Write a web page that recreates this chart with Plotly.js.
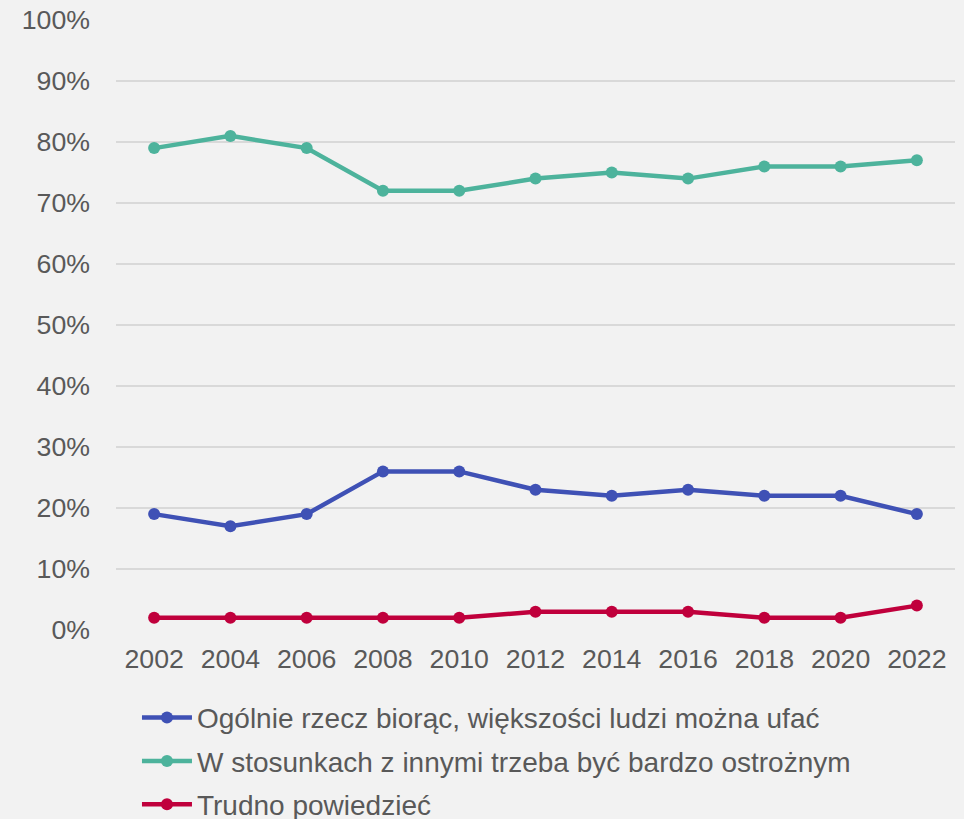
<!DOCTYPE html>
<html><head><meta charset="utf-8">
<script src="https://cdn.plot.ly/plotly-3.0.1.min.js"></script>
<style>html,body{margin:0;padding:0;background:#f2f2f2;}</style>
</head><body>
<div id="chart" style="width:964px;height:819px;"></div>
<script>
const years = ['2002','2004','2006','2008','2010','2012','2014','2016','2018','2020','2022'];
const trustMost = [19,17,19,26,26,23,22,23,22,22,19];
const beCareful = [79,81,79,72,72,74,75,74,76,76,77];
const hardToSay = [2,2,2,2,2,3,3,3,2,2,4];
const seriesNames = [
  'Ogólnie rzecz biorąc, większości ludzi można ufać',
  'W stosunkach z innymi trzeba być bardzo ostrożnym',
  'Trudno powiedzieć'
];
const colors = ['#3f51b5','#4db39c','#c0003c'];
const fam = '"Liberation Sans", Arial, sans-serif';
const tickFont = {family:fam, size:26.7, color:'#595959'};
const legFont = {family:fam, size:28, color:'#595959'};
const mk = (y,i)=>({x:years,y:y,name:seriesNames[i],legendgroup:'g'+i,type:'scatter',mode:'lines+markers',
  line:{color:colors[i],width:4.5},marker:{color:colors[i],size:12}});
const data=[mk(trustMost,0),mk(beCareful,1),mk(hardToSay,2)];
const layout={
  width:964,height:819,
  margin:{l:116,r:9,t:20,b:189,autoexpand:false},
  paper_bgcolor:'#f2f2f2',plot_bgcolor:'#f2f2f2',
  font:tickFont,
  xaxis:{type:'category',range:[-0.5,years.length-0.5],showgrid:false,zeroline:false,showline:false,ticks:'',automargin:false,
    tickfont:tickFont,tickangle:0,ticklabelstandoff:10,fixedrange:true},
  yaxis:{range:[0,100],dtick:10,ticksuffix:'%',showgrid:true,gridcolor:'#d9d9d9',gridwidth:1.5,automargin:false,
    zeroline:false,showline:false,ticks:'',tickfont:tickFont,ticklabelstandoff:25,fixedrange:true},
  showlegend:true,
  legend:{orientation:'v',x:0.025,y:-0.103,xanchor:'left',yanchor:'top',traceorder:'grouped',
    font:legFont,bgcolor:'rgba(0,0,0,0)',itemwidth:50,tracegroupgap:4}
};
Plotly.newPlot('chart',data,layout,{displayModeBar:false,staticPlot:true});
</script>
</body></html>
